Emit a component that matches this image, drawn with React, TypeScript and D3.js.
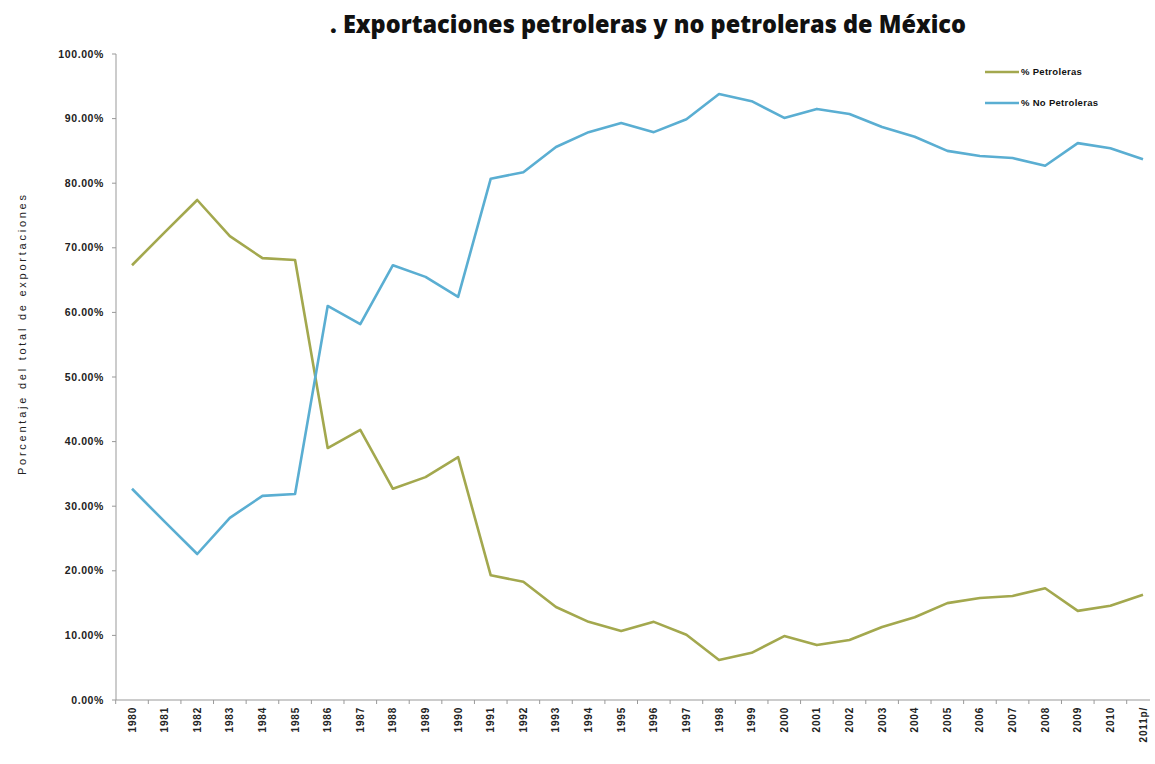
import React from "react";
import * as d3 from "d3";

const years = ["1980","1981","1982","1983","1984","1985","1986","1987","1988","1989","1990","1991","1992","1993","1994","1995","1996","1997","1998","1999","2000","2001","2002","2003","2004","2005","2006","2007","2008","2009","2010","2011p/"];
const petroleras = [67.3,72.4,77.4,71.8,68.4,68.1,39.0,41.8,32.7,34.5,37.6,19.3,18.3,14.4,12.1,10.7,12.1,10.1,6.2,7.3,9.9,8.5,9.3,11.3,12.8,15.0,15.8,16.1,17.3,13.8,14.6,16.3];
const noPetroleras = [32.7,27.6,22.6,28.2,31.6,31.9,61.0,58.2,67.3,65.5,62.4,80.7,81.7,85.6,87.9,89.3,87.9,89.9,93.8,92.7,90.1,91.5,90.7,88.7,87.2,85.0,84.2,83.9,82.7,86.2,85.4,83.7];
const yTicks = [0,10,20,30,40,50,60,70,80,90,100];
const seriesNames = ["% Petroleras", "% No Petroleras"];
const colors = ["#a3a84e", "#5aaed2"];

export default function App() {
  const W = 1155, H = 764;
  const left = 116, right = 1150, top = 54, bottom = 700;
  const x = d3.scalePoint<string>().domain(years).range([132, 1143]);
  const y = d3.scaleLinear().domain([0, 100]).range([bottom, top]);
  const line = d3.line<number>().x((_, i) => x(years[i]) as number).y((d) => y(d));
  const series = [petroleras, noPetroleras];
  const font = "'Liberation Sans', Arial, sans-serif";
  return (
    <svg width={W} height={H} style={{ position: "absolute", left: 0, top: 0, background: "#fff" }}>
      <text x={330} y={33} fontFamily="'Open Sans', 'Liberation Sans', Arial, sans-serif" fontWeight={800} fontSize={25} fill="#111" textLength={636} lengthAdjust="spacingAndGlyphs">. Exportaciones petroleras y no petroleras de México</text>
      <line x1={left} x2={left} y1={top} y2={bottom} stroke="#999" strokeWidth={1} />
      <line x1={left} x2={right} y1={bottom} y2={bottom} stroke="#999" strokeWidth={1} />
      {yTicks.map((t) => (
        <g key={t}>
          <line x1={left - 4} x2={left} y1={y(t)} y2={y(t)} stroke="#999" />
          <text x={104} y={y(t)} dy="0.35em" textAnchor="end" fontFamily={font} fontWeight="bold" fontSize={10.5} letterSpacing={0.6} fill="#222">{t.toFixed(2) + "%"}</text>
        </g>
      ))}
      {years.map((yr) => (
        <g key={yr}>
          <line x1={(x(yr) as number) - 16.3} x2={(x(yr) as number) - 16.3} y1={bottom} y2={bottom + 4} stroke="#999" />
          <text transform={`translate(${(x(yr) as number) + 3.5},707) rotate(-90)`} textAnchor="end" fontFamily={font} fontWeight="bold" fontSize={10} letterSpacing={0.8} fill="#222">{yr}</text>
        </g>
      ))}
      <text transform="translate(26,335) rotate(-90)" textAnchor="middle" fontFamily={font} fontSize={11} fill="#222" textLength={280} lengthAdjust="spacing">Porcentaje del total de exportaciones</text>
      {series.map((s, i) => (
        <path key={i} d={line(s) as string} fill="none" stroke={colors[i]} strokeWidth={2.6} strokeLinejoin="round" />
      ))}
      {seriesNames.map((n, i) => (
        <g key={n}>
          <line x1={985} x2={1019} y1={72 + i * 31} y2={72 + i * 31} stroke={colors[i]} strokeWidth={2.6} />
          <text x={1021} y={72 + i * 31} dy="0.35em" fontFamily={font} fontWeight="bold" fontSize={9.5} letterSpacing={0.3} fill="#111">{n}</text>
        </g>
      ))}
    </svg>
  );
}
